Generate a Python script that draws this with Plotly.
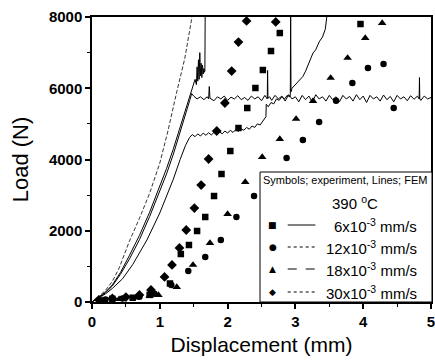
import plotly.graph_objects as go

# ---------------- FEM lines ----------------
fem_30_x = [0, 0.1, 0.2, 0.3, 0.4, 0.55, 0.7, 0.85, 1.0, 1.12, 1.25, 1.37, 1.47, 1.49]
fem_30_y = [0, 150, 330, 580, 950, 1700, 2350, 3050, 3900, 4800, 5900, 6850, 7950, 8300]

fem_18_x = [0, 0.1, 0.2, 0.3, 0.42, 0.55, 0.7, 0.85, 1.0, 1.1,
            1.2, 1.3, 1.4, 1.47, 1.52, 1.54, 1.55, 1.56, 1.57, 1.58,
            1.59, 1.60, 1.61, 1.62, 1.63, 1.64, 1.65, 1.66, 1.665, 1.67]
fem_18_y = [0, 130, 280, 480, 830, 1300, 1870, 2520, 3250, 3750,
            4300, 4900, 5500, 5950, 6250, 6100, 6600, 6200, 6800, 6250,
            7000, 6350, 6700, 6300, 6650, 6400, 6550, 6450, 6500, 8300]

fem_12_x = [0, 0.1, 0.2, 0.3, 0.42, 0.55, 0.7, 0.85, 1.0, 1.1, 1.2, 1.3, 1.38, 1.44, 1.47,
            1.50, 1.55, 1.60, 1.65, 1.70, 1.72, 1.73, 1.74, 1.80, 1.85,
            1.90, 1.95, 2.00, 2.05, 2.10, 2.15, 2.20, 2.25, 2.30, 2.35,
            2.40, 2.45, 2.50, 2.55, 2.585, 2.59, 2.595, 2.62, 2.65, 2.70,
            2.75, 2.80, 2.85, 2.90, 2.95, 3.00, 3.05, 3.10, 3.15, 3.20,
            3.25, 3.30, 3.35, 3.40, 3.45, 3.50, 3.55, 3.60, 3.65, 3.70,
            3.75, 3.80, 3.85, 3.90, 3.95, 4.00, 4.05, 4.10, 4.15, 4.20,
            4.25, 4.30, 4.35, 4.40, 4.45, 4.50, 4.55, 4.60, 4.65, 4.70,
            4.75, 4.80, 4.825, 4.83, 4.835, 4.85, 4.90, 4.95, 5.00]
fem_12_y = [0, 120, 260, 450, 780, 1200, 1750, 2400, 3100, 3600, 4150, 4750, 5250, 5650, 5850,
            5780, 5700, 5760, 5680, 5760, 5700, 6050, 5720, 5650, 5760,
            5700, 5780, 5660, 5750, 5700, 5790, 5680, 5740, 5660, 5780,
            5700, 5760, 5650, 5800, 5700, 6500, 5720, 5760, 5660, 5800,
            5700, 5780, 5640, 5820, 5700, 5760, 5620, 5800, 5680, 5780,
            5600, 5820, 5700, 5760, 5640, 5800, 5680, 5760, 5620, 5800,
            5700, 5770, 5640, 5820, 5680, 5780, 5600, 5800, 5700, 5760,
            5640, 5810, 5680, 5770, 5620, 5800, 5700, 5760, 5650, 5790,
            5690, 5780, 5700, 6300, 5700, 5660, 5780, 5700, 5740]

fem_6_x = [0, 0.1, 0.2, 0.3, 0.45, 0.6, 0.81, 1.0, 1.1, 1.2, 1.3, 1.38, 1.44, 1.48,
           1.52, 1.56, 1.60, 1.64, 1.68, 1.72, 1.76, 1.80, 1.84, 1.88,
           1.92, 1.96, 2.00, 2.04, 2.08, 2.12, 2.16, 2.20, 2.24, 2.28,
           2.32, 2.36, 2.40, 2.44, 2.48, 2.52, 2.55, 2.565, 2.57, 2.60,
           2.64, 2.68, 2.72, 2.76, 2.80, 2.84, 2.88, 2.92, 2.925, 2.93,
           2.935, 2.95, 3.00, 3.05, 3.11, 3.15, 3.20, 3.26, 3.30, 3.35,
           3.40, 3.44, 3.46, 3.47]
fem_6_y = [0, 110, 230, 380, 650, 1050, 1740, 2500, 2950, 3450, 4000, 4400, 4620, 4700,
           4640, 4720, 4660, 4740, 4680, 4750, 4690, 4760, 4700, 4780,
           4720, 4800, 4740, 4820, 4760, 4840, 4790, 4860, 4820, 4900,
           4850, 4940, 4900, 5000, 4970, 5080, 5150, 5200, 5550, 5480,
           5600, 5560, 5700, 5660, 5760, 5700, 5800, 5760, 5820, 8200,
           5900, 6000, 6100, 6200, 6330, 6480, 6700, 6990, 7080, 7300,
           7440, 7650, 7950, 8300]

# ---------------- Experiments ----------------
exp_6_x = [0.3, 0.6, 0.85, 1.15, 1.31, 1.43, 1.55, 1.67, 1.80, 1.91, 2.04, 2.16, 2.29, 2.41, 2.52, 2.64, 2.77, 3.96]
exp_6_y = [90, 120, 200, 520, 1347, 1600, 1993, 2386, 2975, 3593, 4238, 4884, 5445, 6007, 6512, 7045, 7550, 7803]

exp_12_x = [0.2, 0.45, 0.7, 0.92, 1.17, 1.42, 1.67, 1.90, 2.13, 2.39, 2.63, 2.87, 3.11, 3.35, 3.60, 3.84, 4.07, 4.30, 4.45]
exp_12_y = [70, 100, 150, 230, 477, 870, 1263, 1740, 2386, 2975, 3500, 4042, 4547, 5052, 5650, 6147, 6568, 6680, 5445]

exp_18_x = [0.15, 0.4, 0.65, 0.85, 0.98, 1.25, 1.49, 1.74, 2.00, 2.26, 2.51, 2.77, 3.01, 3.26, 3.52, 3.77, 4.03, 4.28]
exp_18_y = [50, 80, 120, 170, 196, 420, 1039, 1656, 2470, 3368, 4070, 4575, 5137, 5642, 6288, 6850, 7410, 7830]

exp_30_x = [0.1, 0.3, 0.5, 0.7, 0.87, 1.07, 1.18, 1.29, 1.39, 1.51, 1.61, 1.72, 1.84, 1.96, 2.06, 2.16, 2.28, 2.71]
exp_30_y = [60, 100, 140, 200, 337, 702, 1039, 1516, 2021, 2638, 3284, 4014, 4800, 5586, 6484, 7297, 7888, 7860]

x_ticks = [0, 1, 2, 3, 4, 5]
y_ticks = [0, 2000, 4000, 6000, 8000]
speed_labels = ["6x10<sup>-3</sup> mm/s", "12x10<sup>-3</sup> mm/s",
                "18x10<sup>-3</sup> mm/s", "30x10<sup>-3</sup> mm/s"]
legend_glyphs = ["\u25A0", "\u25CF", "\u25B2", "\u25C6"]
legend_dashes = ["solid", "dot", "dash", "dot"]

FONT = "Arial, Liberation Sans, Helvetica, sans-serif"

fig = go.Figure()

for xs, ys, dash, w in [(fem_6_x, fem_6_y, "solid", 1.0),
                        (fem_12_x, fem_12_y, "solid", 1.0),
                        (fem_18_x, fem_18_y, "solid", 1.0),
                        (fem_30_x, fem_30_y, "4px,2px", 0.8)]:
    fig.add_trace(go.Scatter(x=xs, y=ys, mode="lines",
                             line=dict(color="black", width=w, dash=dash),
                             showlegend=False, hoverinfo="skip"))

for xs, ys, sym, sz in [(exp_6_x, exp_6_y, "square", 6.5),
                        (exp_12_x, exp_12_y, "circle", 6.5),
                        (exp_18_x, exp_18_y, "triangle-up", 7.5),
                        (exp_30_x, exp_30_y, "diamond", 7.5)]:
    fig.add_trace(go.Scatter(x=xs, y=ys, mode="markers",
                             marker=dict(symbol=sym, size=sz, color="black",
                                         line=dict(width=0)),
                             showlegend=False))

axis_common = dict(
    showgrid=False, zeroline=False, showline=True, linecolor="black", linewidth=1.5,
    mirror=True, ticks="outside", ticklen=5, tickwidth=1.5, tickcolor="black",
    tickfont=dict(family=FONT, size=15, color="black", weight="bold"),
)

fig.update_layout(
    width=435, height=360,
    margin=dict(l=92, r=0, t=17, b=58),
    paper_bgcolor="white", plot_bgcolor="white",
    showlegend=False,
    xaxis=dict(range=[0, 5], tickvals=x_ticks, ticklabeloverflow="allow",
               minor=dict(dtick=0.5, ticks="outside", ticklen=3, tickcolor="black", tickwidth=1),
               title=dict(text="Displacement (mm)", font=dict(family=FONT, size=21, color="black"),
                          standoff=9),
               **axis_common),
    yaxis=dict(range=[0, 8000], tickvals=y_ticks,
               minor=dict(dtick=1000, ticks="outside", ticklen=3, tickcolor="black", tickwidth=1),
               title=dict(text="Load (N)", font=dict(family=FONT, size=22, color="black"),
                          standoff=14),
               **axis_common),
)

# ---------------- legend box (built by hand) ----------------
L, R, T, B = 92.0, 435.0, 17.0, 302.0
def px(xp):
    return (xp - L) / (R - L)
def py(yp):
    return (B - yp) / (B - T)

fig.add_shape(type="rect", xref="paper", yref="paper",
              x0=px(262), x1=px(436), y0=py(302), y1=py(172),
              fillcolor="white", line=dict(color="black", width=1), layer="above")

fig.add_annotation(xref="paper", yref="paper", x=px(263), y=py(180),
                   text="Symbols; experiment, Lines; FEM", showarrow=False,
                   xanchor="left", yanchor="middle",
                   font=dict(family=FONT, size=11, color="black"))
fig.add_annotation(xref="paper", yref="paper", x=px(358), y=py(202),
                   text="390 <sup>o</sup>C", showarrow=False,
                   xanchor="center", yanchor="middle",
                   font=dict(family=FONT, size=15, color="black"))

rows_y = [225, 247, 269, 292]
for glyph, lab, dash, ry in zip(legend_glyphs, speed_labels, legend_dashes, rows_y):
    fig.add_annotation(xref="paper", yref="paper", x=px(275), y=py(ry),
                       text=glyph, showarrow=False, xanchor="center", yanchor="middle",
                       font=dict(family="DejaVu Sans", size=9, color="black"))
    fig.add_shape(type="line", xref="paper", yref="paper",
                  x0=px(290), x1=px(318), y0=py(ry), y1=py(ry),
                  line=dict(color="black", width=1, dash=dash), layer="above")
    fig.add_annotation(xref="paper", yref="paper", x=px(423), y=py(ry),
                       text=lab, showarrow=False, xanchor="right", yanchor="middle",
                       font=dict(family=FONT, size=15, color="black"))

fig.write_html("out.html")
